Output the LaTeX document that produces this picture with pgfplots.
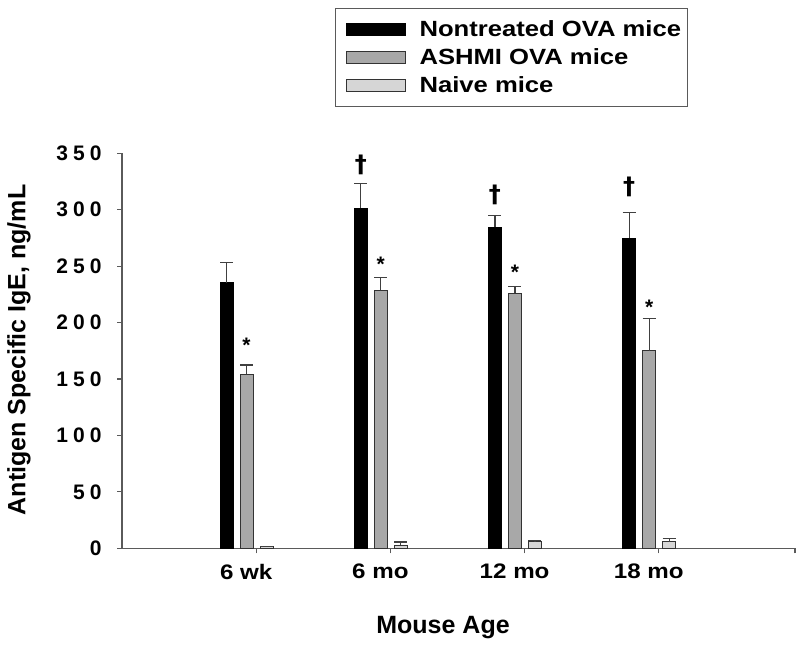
\documentclass[border=0pt]{standalone}
\usepackage{fontspec}
\setmainfont{Liberation Sans}
\newfontfamily\stretchfont[FakeStretch=1.15]{Liberation Sans}
\newfontfamily\legfont[FakeStretch=1.165]{Liberation Sans}
\newfontfamily\dagfont{DejaVu Sans}
\usepackage{pgfplots}
\usepackage{pgfplotstable}
\pgfplotsset{compat=1.18}

\pgfplotstableread{
x y e
0 235.3 17.7
1 301.3 22.1
2 284.4 10.6
3 274.7 22.7
}\nontreated
\pgfplotstableread{
x y e
0 154.2 8.2
1 228.6 11.0
2 226.2 5.6
3 175.0 28.4
}\ashmi
\pgfplotstableread{
x y e
0 1.5 0.0
1 3.0 2.5
2 6.0 1.0
3 6.0 3.0
}\naive

\definecolor{ashmigray}{RGB}{168,168,168}
\definecolor{naivegray}{RGB}{214,214,214}
\definecolor{axisgray}{RGB}{90,90,90}

\newcommand\kk{\kern5pt}

\begin{document}
\begin{tikzpicture}
\begin{axis}[
  scale only axis,
  width=673pt, height=395pt,
  xmin=-0.928, xmax=4.087,
  ymin=0, ymax=350,
  clip=false,
  axis x line=bottom, axis y line=left,
  axis line style={-, draw=axisgray, line width=1.1pt},
  tick align=outside,
  major tick length=5pt,
  tick style={draw=axisgray, line width=1.1pt},
  ybar=7pt, bar width=13pt,
  xtick={0.072,1.072,2.072,3.072,4.087},
  xticklabels={6 wk,6 mo,12 mo,18 mo,{}},
  xticklabel style={font=\stretchfont\bfseries\fontsize{21}{21}\selectfont, xshift=-10pt, yshift=-7pt},
  ytick={0,50,...,350},
  yticklabels={0,5\kk0,1\kk0\kk0,1\kk5\kk0,2\kk0\kk0,2\kk5\kk0,3\kk0\kk0,3\kk5\kk0},
  yticklabel style={font=\bfseries\fontsize{21}{21}\selectfont, xshift=-12pt},
  xlabel={Mouse Age},
  xlabel style={font=\bfseries\fontsize{25}{25}\selectfont, at={(rel axis cs:0.477,-0.2005)}, anchor=center},
  ylabel={Antigen Specific IgE, ng/mL},
  ylabel style={font=\bfseries\fontsize{25}{25}\selectfont, at={(rel axis cs:-0.153,0.502)}, anchor=center, rotate=0},
  legend image code/.code={\path (0pt,0pt); \draw[#1, line width=1pt] (6pt,-6pt) rectangle (65pt,6pt);},
  legend cell align=left,
  legend style={at={(rel axis cs:0.3165,1.368)}, anchor=north west,
    draw=axisgray, line width=1.2pt, inner xsep=4pt, inner ysep=10pt,
    font=\legfont\bfseries\fontsize{22}{22}\selectfont,
    row sep=6pt,
    nodes={inner sep=2pt, text height=16pt, text depth=2pt},
    /tikz/every odd column/.append style={column sep=12pt}},
]
\addplot[fill=black, draw=black, line width=0.8pt,
  error bars/.cd, y dir=plus, y explicit,
  error bar style={line width=1.2pt, draw=black!75},
  error mark options={rotate=90, line width=1.2pt, mark size=6.5pt, draw=black!75}]
  table[x=x, y=y, y error=e] {\nontreated};
\addlegendentry{Nontreated OVA mice}
\addplot[fill=ashmigray, draw=black!80, line width=0.8pt,
  error bars/.cd, y dir=plus, y explicit,
  error bar style={line width=1.2pt, draw=black!75},
  error mark options={rotate=90, line width=1.2pt, mark size=6.5pt, draw=black!75}]
  table[x=x, y=y, y error=e] {\ashmi};
\addlegendentry{ASHMI OVA mice}
\addplot[fill=naivegray, draw=black!80, line width=0.8pt,
  error bars/.cd, y dir=plus, y explicit,
  error bar style={line width=1.2pt, draw=black!75},
  error mark options={rotate=90, line width=1.2pt, mark size=6.5pt, draw=black!75}]
  table[x=x, y=y, y error=e] {\naive};
\addlegendentry{Naive mice}

% significance markers
\node[font=\dagfont\bfseries\fontsize{24}{24}\selectfont, anchor=north, inner sep=0pt] at (axis cs:0.851,348.5) {†};
\node[font=\dagfont\bfseries\fontsize{24}{24}\selectfont, anchor=north, inner sep=0pt] at (axis cs:1.851,321.9) {†};
\node[font=\dagfont\bfseries\fontsize{24}{24}\selectfont, anchor=north, inner sep=0pt] at (axis cs:2.851,329.3) {†};
\node[font=\bfseries\fontsize{21}{21}\selectfont, anchor=north, inner sep=0pt] at (axis cs:0,186.3) {*};
\node[font=\bfseries\fontsize{21}{21}\selectfont, anchor=north, inner sep=0pt] at (axis cs:1,258.4) {*};
\node[font=\bfseries\fontsize{21}{21}\selectfont, anchor=north, inner sep=0pt] at (axis cs:2,251.0) {*};
\node[font=\bfseries\fontsize{21}{21}\selectfont, anchor=north, inner sep=0pt] at (axis cs:3,220.0) {*};

\coordinate (bbsw) at (rel axis cs:-0.1813,-0.2499);
\coordinate (bbne) at (rel axis cs:1.0074,1.3881);
\end{axis}
\pgfresetboundingbox
\path[use as bounding box] (bbsw) rectangle (bbne);
\end{tikzpicture}
\end{document}
